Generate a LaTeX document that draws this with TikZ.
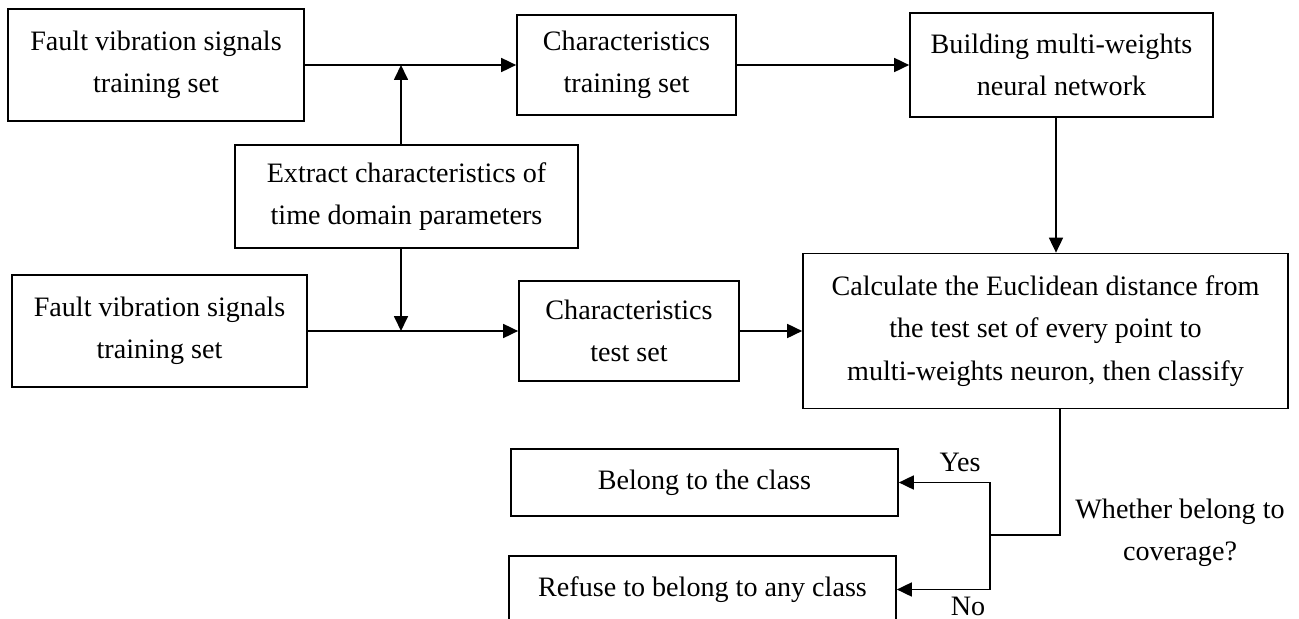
\documentclass[tikz,border=0pt]{standalone}
\usepackage{fontspec}
\setmainfont{Liberation Serif}
\usetikzlibrary{positioning, arrows.meta}

\begin{document}
\begin{tikzpicture}[
      x=0.02cm, y=-0.02cm,
      % Styling nodes
      base/.style={
        draw,
        rectangle,
        line width=1pt,
        align=center,
        font=\fontsize{16}{24}\selectfont,
        inner sep=2pt
      },
      signal/.style={base, minimum width=5.92cm, minimum height=2.23cm},
      feature/.style={base, minimum width=4.4cm, minimum height=2cm},
      result/.style={base, minimum width=7.74cm, minimum height=1.34cm},
      lbl/.style={align=center, font=\fontsize{16}{24}\selectfont},
      arrow/.style={-{Triangle[length=0.3cm,width=0.28cm]}, line width=1pt}
    ]
    \useasboundingbox (0,0) rectangle (1299,619);

    % Training branch
    \node (fvtrain) [signal] at (156,65) {Fault vibration signals\\training set};
    \node (chtrain) [feature, minimum width=4.38cm] at (626.5,65) {Characteristics\\training set};
    \node (build) [base, minimum width=6.06cm, minimum height=2.08cm] at (1061.5,65) {Building multi-weights\\neural network};

    % Feature extraction in the middle
    \node (extract) [base, minimum width=6.86cm, minimum height=2.06cm] at (406.5,196.5) {Extract characteristics of\\time domain parameters};

    % Test branch
    \node (fvtest) [signal, minimum width=5.9cm] at (159.5,331) {Fault vibration signals\\training set};
    \node (chtest) [feature] at (629,331) {Characteristics\\test set};
    \node (calc) [base, minimum width=9.7cm, minimum height=3.1cm] at (1045.5,331) {Calculate the Euclidean distance from\\the test set of every point to\\multi-weights neuron, then classify};

    % Decision outcomes
    \node (belong) [result] at (704.5,482.5) {Belong to the class};
    \node (refuse) [result] at (702.5,589.5) {Refuse to belong to any class};

    % Junction points
    \coordinate (jtop) at (401,65);
    \coordinate (jbot) at (401,331);
    \coordinate (dec) at (1060,535);
    \coordinate (split) at (990,535);

    % Arrows
    \draw[arrow] (fvtrain) -- (chtrain);
    \draw[arrow] (chtrain) -- (build);
    \draw[arrow] (extract.north -| jtop) -- (jtop);
    \draw[arrow] (extract.south -| jbot) -- (jbot);
    \draw[arrow] (fvtest) -- (chtest);
    \draw[arrow] (chtest) -- (calc);
    \draw[arrow] (build.south -| 1056,0) -- (calc.north -| 1056,0);

    % Decision branch
    \draw[line width=1pt] (calc.south -| dec) -- (dec) -- (split);
    \draw[arrow] (split) |- (belong.east);
    \draw[arrow] (split) |- (refuse.east);

    % Labels
    \node (yes) [lbl] at (960,462) {Yes};
    \node (no) [lbl] at (968,606) {No};
    \node (whether) [lbl] at (1180,533) {Whether belong to\\coverage?};

  \end{tikzpicture}
\end{document}
